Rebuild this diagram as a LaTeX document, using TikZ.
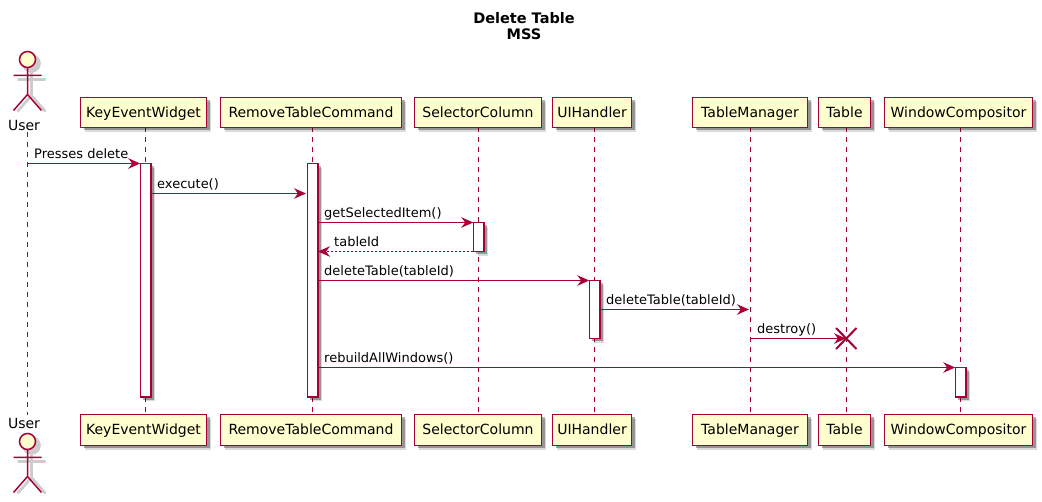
\documentclass[tikz,border=0pt]{standalone}
\usepackage{fontspec}
\setmainfont{DejaVu Sans}
\usetikzlibrary{arrows.meta,shadows}
\definecolor{umlred}{HTML}{A80036}
\definecolor{umlfill}{HTML}{FEFECE}
\tikzset{
  umlshadow/.style={drop shadow={shadow xshift=4.5pt,shadow yshift=-4.5pt,fill=black,opacity=0.14},drop shadow={shadow xshift=3pt,shadow yshift=-3pt,fill=black,opacity=0.32}},
  party/.style={draw=umlred,fill=umlfill,line width=1.9pt,outer sep=0pt,inner sep=0pt,text=black,text height=11pt,text depth=1pt,font=\fontsize{14pt}{16pt}\selectfont,umlshadow},
  lifeline/.style={draw=umlred,line width=1pt,dash pattern=on 5pt off 5pt},
  actbar/.style={draw=umlred,fill=white,line width=1.5pt,minimum width=10.5pt,inner sep=0pt,outer sep=0pt,umlshadow},
  msg/.style={draw=umlred,line width=1.1pt,-{Stealth[length=12pt,width=10.5pt,inset=4pt]}},
  msgback/.style={msg,dash pattern=on 2pt off 2pt},
  msgtext/.style={anchor=base west,inner sep=0pt,text=black},
  actorname/.style={inner sep=0pt,text height=11pt,text depth=0pt,font=\fontsize{14pt}{16pt}\selectfont},
  actorline/.style={draw=umlred,fill=umlfill,line width=1.5pt},
  actorshade/.style={draw=black!20,fill=black!20,line width=2.6pt},
  stickman/.pic={
    \draw[actorshade] (4,4) circle (8);
    \draw[actorshade] (4,12.5) -- (4,36) (-10,20) -- (18,20) (4,36) -- (-10,52) (4,36) -- (18,52);
    \draw[actorline] (0,0) circle (8);
    \draw[actorline] (0,8) -- (0,35) (-14,16) -- (14,16) (0,35) -- (-14,51) (0,35) -- (14,51);
  }
}
\begin{document}
\begin{tikzpicture}[x=1pt,y=-1pt,font=\fontsize{13pt}{15pt}\selectfont]
\useasboundingbox (0,0) rectangle (1042,502);
% title
\node[align=center,inner sep=0pt,font=\fontsize{14.5pt}{16pt}\selectfont\bfseries] (title) at (524,26) {Delete Table\\MSS};
% lifelines
\coordinate (userTop) at (27.5,132);
\coordinate (userBot) at (27.5,415);
\coordinate (keyTop) at (145.5,127);
\coordinate (keyBot) at (145.5,414);
\coordinate (cmdTop) at (312.5,127);
\coordinate (cmdBot) at (312.5,414);
\coordinate (selTop) at (478,127);
\coordinate (selBot) at (478,414);
\coordinate (uiTop) at (594,127);
\coordinate (uiBot) at (594,414);
\coordinate (mgrTop) at (750,127);
\coordinate (mgrBot) at (750,414);
\coordinate (tabTop) at (846,127);
\coordinate (tabBot) at (846,414);
\coordinate (winTop) at (960,127);
\coordinate (winBot) at (960,414);
\draw[lifeline] (userTop) -- (userBot);
\draw[lifeline] (keyTop) -- (keyBot);
\draw[lifeline] (cmdTop) -- (cmdBot);
\draw[lifeline] (selTop) -- (selBot);
\draw[lifeline] (uiTop) -- (uiBot);
\draw[lifeline] (mgrTop) -- (mgrBot);
\draw[lifeline] (tabTop) -- (tabBot);
\draw[lifeline] (winTop) -- (winBot);
% top row
\pic at (27.5,59.5) {stickman};
\node[actorname] (userA) at (24,125) {User};
\node[party,minimum height=30pt,minimum width=126pt] (keyA) at (143.5,112.5) {KeyEventWidget};
\node[party,minimum height=30pt,minimum width=181pt] (cmdA) at (311,112.5) {RemoveTableCommand};
\node[party,minimum height=30pt,minimum width=127pt] (selA) at (478,112.5) {SelectorColumn};
\node[party,minimum height=30pt,minimum width=79pt] (uiA) at (592,112.5) {UIHandler};
\node[party,minimum height=30pt,minimum width=115pt] (mgrA) at (750,112.5) {TableManager};
\node[party,minimum height=30pt,minimum width=52pt] (tabA) at (844.5,112.5) {Table};
\node[party,minimum height=30pt,minimum width=148pt] (winA) at (958.5,112.5) {WindowCompositor};
% bottom row
\pic at (27.5,441.5) {stickman};
\node[actorname] (userB) at (24,423) {User};
\node[party,minimum height=31pt,minimum width=126pt] (keyB) at (143.5,430) {KeyEventWidget};
\node[party,minimum height=31pt,minimum width=181pt] (cmdB) at (311,430) {RemoveTableCommand};
\node[party,minimum height=31pt,minimum width=127pt] (selB) at (478,430) {SelectorColumn};
\node[party,minimum height=31pt,minimum width=79pt] (uiB) at (592,430) {UIHandler};
\node[party,minimum height=31pt,minimum width=115pt] (mgrB) at (750,430) {TableManager};
\node[party,minimum height=31pt,minimum width=52pt] (tabB) at (844.5,430) {Table};
\node[party,minimum height=31pt,minimum width=148pt] (winB) at (958.5,430) {WindowCompositor};
% activations
\node[actbar,minimum height=233.5pt] (keyBar) at (145.5,280.25) {};
\node[actbar,minimum height=233.5pt] (cmdBar) at (312.5,280.25) {};
\node[actbar,minimum height=29pt] (selBar) at (478.5,237) {};
\node[actbar,minimum height=58pt] (uiBar) at (594.5,309.5) {};
\node[actbar,minimum height=29.5pt] (winBar) at (960.5,382.25) {};
% free ends of the messages
\coordinate (pressA) at (27.5,163.5);
\coordinate (execA) at (151,193.5);
\coordinate (execB) at (306,193.5);
\coordinate (getA) at (318,222.5);
\coordinate (backB) at (318,251.5);
\coordinate (delA) at (318,280.5);
\coordinate (tellA) at (600,309.5);
\coordinate (tellB) at (749,309.5);
\coordinate (destA) at (750,338.5);
\coordinate (destB) at (846,338.5);
\coordinate (rebA) at (318,367.5);
% messages
\draw[msg] (pressA) -- (keyBar.north west);
\draw[msg] (execA) -- (execB);
\draw[msg] (getA) -- (selBar.north west);
\draw[msgback] (selBar.south west) -- (backB);
\draw[msg] (delA) -- (uiBar.north west);
\draw[msg] (tellA) -- (tellB);
\draw[msg] (destA) -- (destB);
\draw[msg] (rebA) -- (winBar.north west);
\draw[draw=umlred,line width=2pt] (836,328) -- (856.5,349) (836,349) -- (856.5,328);
% labels
\node[msgtext] (pressLab) at (34,159) {Presses delete};
\node[msgtext] (execLab) at (157,189) {execute()};
\node[msgtext] (getLab) at (324,218) {getSelectedItem()};
\node[msgtext] (backLab) at (334,247) {tableId};
\node[msgtext] (delLab) at (324,276) {deleteTable(tableId)};
\node[msgtext] (tellLab) at (606,305) {deleteTable(tableId)};
\node[msgtext] (destLab) at (757,334) {destroy()};
\node[msgtext] (rebLab) at (324,363) {rebuildAllWindows()};
\end{tikzpicture}
\end{document}
